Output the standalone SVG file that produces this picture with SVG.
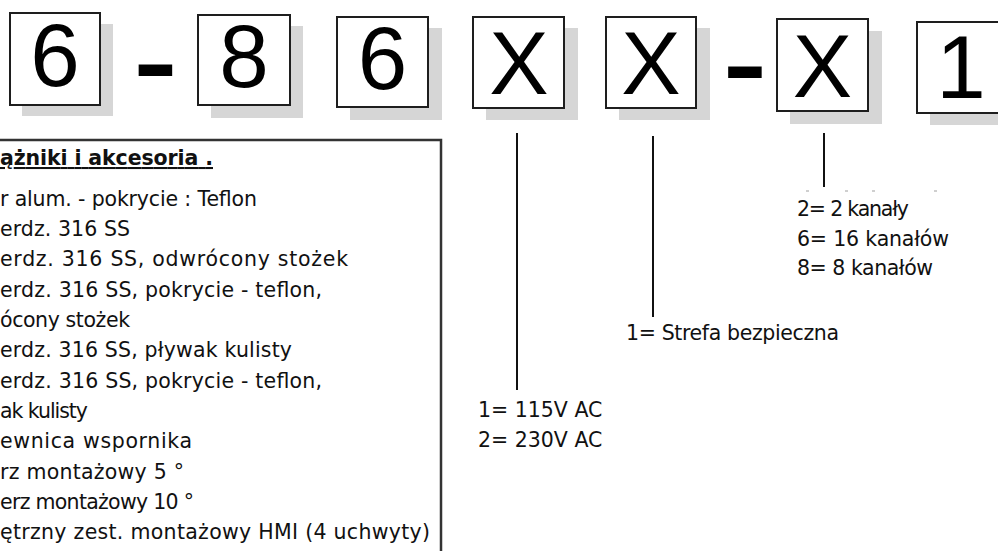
<svg xmlns="http://www.w3.org/2000/svg" width="998" height="551" viewBox="0 0 998 551">
<style>
.shadow{fill:#d6d6d6}
.box{fill:#ffffff;stroke:#1e1e1e;stroke-width:2}
.digit{font-family:"Liberation Sans",Arial,sans-serif;font-size:89px;fill:#000;text-anchor:middle}
.dash{font-family:"Liberation Sans",Arial,sans-serif;font-size:88px;font-weight:bold;fill:#000;text-anchor:middle}
.lbl{font-family:"DejaVu Sans",Verdana,sans-serif;font-size:20.5px;fill:#111}
.hdr{font-family:"DejaVu Sans",Verdana,sans-serif;font-size:20.5px;font-weight:bold;fill:#111;text-decoration:underline}
.conn{stroke:#111;stroke-width:2;fill:none}
.dot{fill:#cfcfcf}
.panel{fill:#ffffff;stroke:#333;stroke-width:2.5}
</style>

<g id="code-boxes">
  <g id="box1">
    <rect class="shadow" x="22" y="24" width="91" height="92"/>
    <rect class="box" x="10" y="13" width="90" height="92"/>
    <text class="digit" x="55" y="86">6</text>
  </g>
  <g id="dash1">
    <text class="dash" transform="translate(155.5,95) scale(1.5,1.1)" x="0" y="0">-</text>
  </g>
  <g id="box2">
    <rect class="shadow" x="211" y="26" width="92" height="92"/>
    <rect class="box" x="198" y="15" width="92" height="90"/>
    <text class="digit" x="244" y="87">8</text>
  </g>
  <g id="box3">
    <rect class="shadow" x="350" y="28" width="92" height="92"/>
    <rect class="box" x="337" y="17" width="91" height="90"/>
    <text class="digit" x="382.5" y="89">6</text>
  </g>
  <g id="box4">
    <rect class="shadow" x="486" y="28" width="92" height="92"/>
    <rect class="box" x="473" y="17" width="91" height="91"/>
    <text class="digit" x="519" y="94">X</text>
  </g>
  <g id="box5">
    <rect class="shadow" x="619" y="28" width="91" height="92"/>
    <rect class="box" x="606" y="17" width="90" height="91"/>
    <text class="digit" x="651" y="94">X</text>
  </g>
  <g id="dash2">
    <text class="dash" transform="translate(745,96.5) scale(1.5,1.1)" x="0" y="0">-</text>
  </g>
  <g id="box6">
    <rect class="shadow" x="790" y="31" width="92" height="93"/>
    <rect class="box" x="777" y="19" width="91" height="92"/>
    <text class="digit" x="822.5" y="97">X</text>
  </g>
  <g id="box7">
    <rect class="shadow" x="930" y="33" width="92" height="92"/>
    <rect class="box" x="917" y="22" width="91" height="91"/>
    <text class="digit" x="961" y="98">1</text>
  </g>
</g>

<g id="connectors">
  <line class="conn" x1="517" y1="133" x2="517" y2="390"/>
  <line class="conn" x1="653" y1="136" x2="653" y2="317"/>
  <line class="conn" x1="824" y1="133" x2="824" y2="187"/>
</g>

<g id="dots">
  <rect class="dot" x="806" y="190" width="3" height="2"/>
  <rect class="dot" x="845" y="190" width="3" height="2"/>
  <rect class="dot" x="872" y="190" width="3" height="2"/>
  <rect class="dot" x="934" y="190" width="3" height="2"/>
</g>

<g id="accessories-panel">
  <rect class="panel" x="-10" y="140" width="451" height="440"/>
  <text class="hdr" x="0" y="165" textLength="213" lengthAdjust="spacing">ążniki i akcesoria .</text>
  <g xml:space="preserve">
    <text class="lbl" x="0" y="206" textLength="257" lengthAdjust="spacing">r alum. - pokrycie : Teflon</text>
    <text class="lbl" x="0" y="236" textLength="130" lengthAdjust="spacing">erdz. 316 SS</text>
    <text class="lbl" x="0" y="266" textLength="348" lengthAdjust="spacing">erdz. 316 SS,  odwrócony stożek</text>
    <text class="lbl" x="0" y="297" textLength="322" lengthAdjust="spacing">erdz. 316 SS, pokrycie - teflon,</text>
    <text class="lbl" x="0" y="327" textLength="130" lengthAdjust="spacing">ócony stożek</text>
    <text class="lbl" x="0" y="357" textLength="292" lengthAdjust="spacing">erdz. 316 SS, pływak kulisty</text>
    <text class="lbl" x="0" y="388" textLength="322" lengthAdjust="spacing">erdz. 316 SS, pokrycie - teflon,</text>
    <text class="lbl" x="0" y="418" textLength="88" lengthAdjust="spacing">ak kulisty</text>
    <text class="lbl" x="0" y="448" textLength="192" lengthAdjust="spacing">ewnica wspornika</text>
    <text class="lbl" x="0" y="479" textLength="184" lengthAdjust="spacing">rz montażowy 5 °</text>
    <text class="lbl" x="0" y="509" textLength="194" lengthAdjust="spacing">erz montażowy 10 °</text>
    <text class="lbl" x="0" y="539" textLength="430" lengthAdjust="spacing">ętrzny zest. montażowy HMI (4 uchwyty)</text>
  </g>
</g>

<g id="voltage-options">
  <text class="lbl" x="478" y="417">1= 115V AC</text>
  <text class="lbl" x="478" y="447">2= 230V AC</text>
</g>

<g id="zone-options">
  <text class="lbl" x="626" y="340" textLength="213" lengthAdjust="spacing">1= Strefa bezpieczna</text>
</g>

<g id="channel-options">
  <text class="lbl" x="797" y="216" textLength="112" lengthAdjust="spacing">2= 2 kanały</text>
  <text class="lbl" x="797" y="246" textLength="152" lengthAdjust="spacing">6= 16 kanałów</text>
  <text class="lbl" x="797" y="275" textLength="136" lengthAdjust="spacing">8= 8 kanałów</text>
</g>
</svg>
